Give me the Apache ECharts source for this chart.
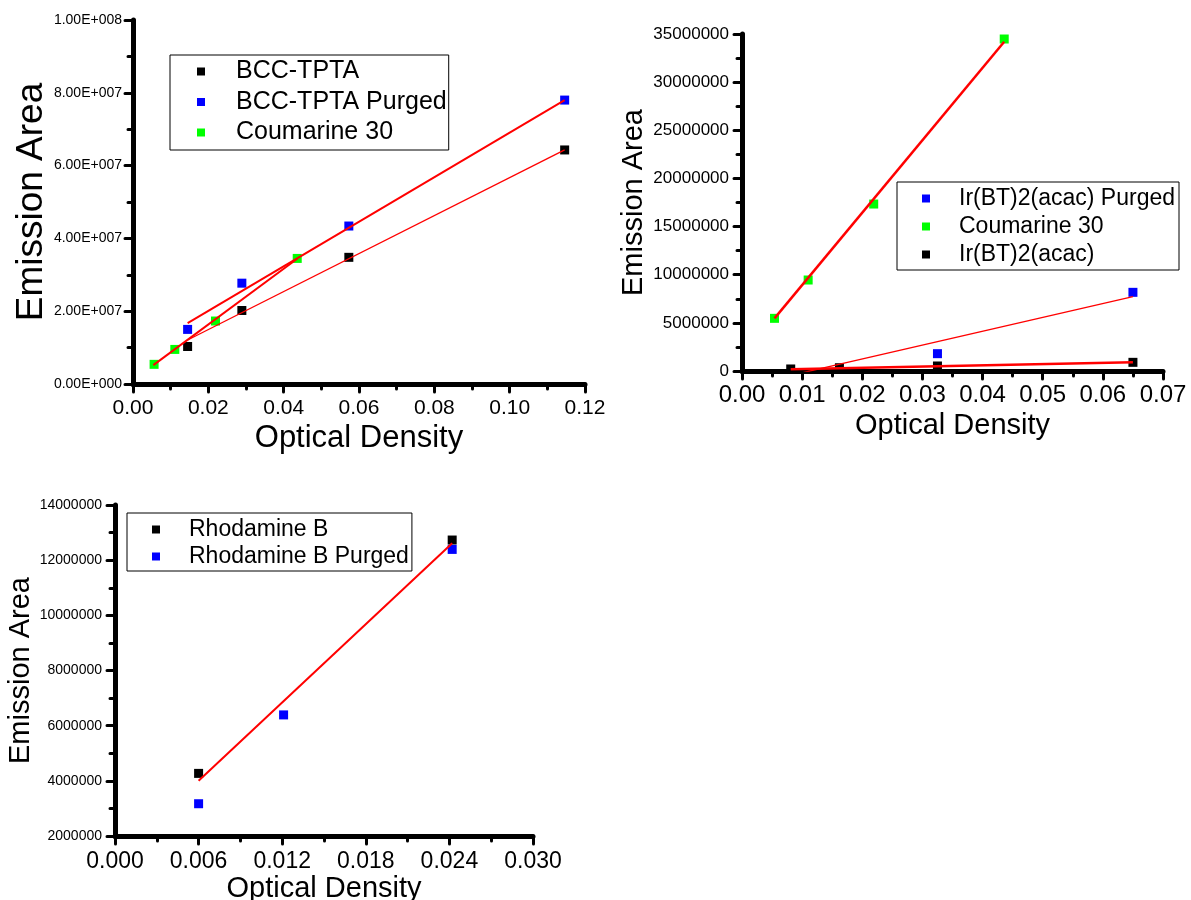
<!DOCTYPE html>
<html>
<head>
<meta charset="utf-8">
<script src="https://cdn.jsdelivr.net/npm/echarts@6/dist/echarts.min.js"></script>
<style>
html,body{margin:0;padding:0;background:#fff;}
#main{width:1191px;height:900px;}
</style>
</head>
<body>
<div id="main"></div>
<script>
// ---------- Data ----------
// Panel 1 (top-left)
const bccX = [0.0145, 0.0289, 0.0573, 0.1146];
const bccY = [1.03e7, 2.02e7, 3.48e7, 6.43e7];
const bccPurgedX = [0.0145, 0.0289, 0.0573, 0.1146];
const bccPurgedY = [1.50e7, 2.77e7, 4.34e7, 7.80e7];
const coumarineX = [0.0056, 0.0111, 0.0219, 0.0436];
const coumarineY = [5.4e6, 9.5e6, 1.73e7, 3.45e7];
const bccFitX = [0.0145, 0.1146];
const bccFitY = [1.21e7, 6.43e7];
const bccPurgedFitX = [0.0145, 0.1146];
const bccPurgedFitY = [1.67e7, 7.80e7];
const coumarineFitX = [0.0054, 0.0436];
const coumarineFitY = [5.2e6, 3.44e7];

// Panel 2 (top-right)
const irPurgedX = [0.0325, 0.0650];
const irPurgedY = [1.8e6, 8.17e6];
const coumarine2X = [0.0054, 0.0110, 0.0219, 0.0436];
const coumarine2Y = [5.47e6, 9.45e6, 1.734e7, 3.448e7];
const irX = [0.0081, 0.0162, 0.0325, 0.0650];
const irY = [2.1e5, 3.4e5, 5.2e5, 9.0e5];
const irPurgedFitX = [0.0081, 0.0650];
const irPurgedFitY = [-4.6e5, 7.72e6];
const coumarine2FitX = [0.0054, 0.0436];
const coumarine2FitY = [5.47e6, 3.42e7];
const irFitX = [0.0081, 0.0650];
const irFitY = [1.7e5, 9.0e5];

// Panel 3 (bottom-left)
const rhodX = [0.0060, 0.0242];
const rhodY = [4.27e6, 1.273e7];
const rhodPurgedX = [0.0060, 0.0121, 0.0242];
const rhodPurgedY = [3.17e6, 6.39e6, 1.239e7];
const rhodFitX = [0.0060, 0.0242];
const rhodFitY = [4.0e6, 1.261e7];

// Tick settings
const p1XTicks = {min: 0, max: 0.12, interval: 0.02};
const p1YTicks = {min: 0, max: 1e8, interval: 2e7};
const p2XTicks = {min: 0, max: 0.07, interval: 0.01};
const p2YTicks = {min: 0, max: 3.5e7, interval: 5e6};
const p3XTicks = {min: 0, max: 0.03, interval: 0.006};
const p3YTicks = {min: 2e6, max: 1.4e7, interval: 2e6};

const xTitle = 'Optical Density';
const yTitle = 'Emission Area';

// ---------- Chart ----------
const FONT = 'Liberation Sans, Arial, Helvetica, sans-serif';
const pts = (xs, ys) => xs.map((x, i) => [x, ys[i]]);
const sci = v => {
  if (v === 0) return '0.00E+000';
  const e = Math.floor(Math.log10(Math.abs(v)) + 1e-9);
  const m = v / Math.pow(10, e);
  return m.toFixed(2) + 'E+' + String(e).padStart(3, '0');
};

function xAxis(idx, t, fs, dec, nameFs, nameGap, labelMargin) {
  return {
    type: 'value', gridIndex: idx, min: t.min, max: t.max, interval: t.interval,
    name: xTitle, nameLocation: 'middle', nameGap: nameGap,
    nameTextStyle: {fontFamily: FONT, fontSize: nameFs, color: '#000'},
    axisLine: {show: true, onZero: false, lineStyle: {color: '#000', width: 5}},
    axisTick: {show: true, length: 8, lineStyle: {color: '#000', width: 3, cap: 'round'}},
    minorTick: {show: true, splitNumber: 2, length: 5, lineStyle: {color: '#000', width: 3, cap: 'round'}},
    splitLine: {show: false},
    axisLabel: {fontFamily: FONT, fontSize: fs, color: '#000', margin: labelMargin,
      formatter: v => v.toFixed(dec)}
  };
}
function yAxis(idx, t, fs, fmt, nameFs, nameGap, labelMargin) {
  return {
    type: 'value', gridIndex: idx, min: t.min, max: t.max, interval: t.interval,
    name: yTitle, nameLocation: 'middle', nameGap: nameGap, nameRotate: 90,
    nameTextStyle: {fontFamily: FONT, fontSize: nameFs, color: '#000'},
    axisLine: {show: true, onZero: false, lineStyle: {color: '#000', width: 5}},
    axisTick: {show: true, length: 8, lineStyle: {color: '#000', width: 3, cap: 'round'}},
    minorTick: {show: true, splitNumber: 2, length: 5, lineStyle: {color: '#000', width: 3, cap: 'round'}},
    splitLine: {show: false},
    axisLabel: {fontFamily: FONT, fontSize: fs, color: '#000', margin: labelMargin, formatter: fmt}
  };
}
function scatter(name, idx, xs, ys, color) {
  return {
    name: name, type: 'scatter', xAxisIndex: idx, yAxisIndex: idx,
    symbol: 'rect', symbolSize: 9, itemStyle: {color: color, opacity: 1}, z: 2,
    data: pts(xs, ys)
  };
}
function fit(name, idx, xs, ys, width) {
  return {
    name: name, type: 'line', xAxisIndex: idx, yAxisIndex: idx,
    showSymbol: false, symbol: 'none', clip: true, z: 3,
    lineStyle: {color: '#ff0000', width: width},
    data: pts(xs, ys)
  };
}
function legend(names, left, top, fs, padding, gap, textPad) {
  return {
    data: names.map(n => ({name: n, icon: 'rect', itemStyle: {opacity: 1}})),
    orient: 'vertical', left: left, top: top,
    itemWidth: 8, itemHeight: 8, itemGap: gap,
    padding: padding, borderColor: '#000', borderWidth: 1,
    selectedMode: false,
    textStyle: {fontFamily: FONT, fontSize: fs, color: '#000', padding: [0, 0, 0, textPad]}
  };
}

const chart = echarts.init(document.getElementById('main'), null, {renderer: 'canvas'});
chart.setOption({
  animation: false,
  backgroundColor: '#fff',
  grid: [
    {left: 133, top: 20, width: 452, height: 364, outerBoundsMode: 'none', containLabel: false},
    {left: 742, top: 34, width: 421, height: 337, outerBoundsMode: 'none', containLabel: false},
    {left: 115, top: 505, width: 418, height: 331, outerBoundsMode: 'none', containLabel: false}
  ],
  xAxis: [
    xAxis(0, p1XTicks, 21, 2, 31, 39, 14),
    xAxis(1, p2XTicks, 24, 2, 29, 40, 12),
    xAxis(2, p3XTicks, 23, 3, 29, 38, 14)
  ],
  yAxis: [
    yAxis(0, p1YTicks, 14, sci, 37, 83, 11),
    yAxis(1, p2YTicks, 17, v => String(Math.round(v)), 29, 94, 13),
    yAxis(2, p3YTicks, 14, v => String(Math.round(v)), 29, 69, 13)
  ],
  legend: [
    legend(['BCC-TPTA', 'BCC-TPTA Purged', 'Coumarine 30'], 170, 55, 25, [4, 2, 5, 27], 5.5, 26),
    legend(['Ir(BT)2(acac) Purged', 'Coumarine 30', 'Ir(BT)2(acac)'], 897, 182, 23, [5, 4, 4, 25], 5, 24),
    legend(['Rhodamine B', 'Rhodamine B Purged'], 127, 513, 23, [5, 3, 3, 25], 4, 24)
  ],
  series: [
    scatter('BCC-TPTA', 0, bccX, bccY, '#000000'),
    scatter('BCC-TPTA Purged', 0, bccPurgedX, bccPurgedY, '#0000ff'),
    scatter('Coumarine 30', 0, coumarineX, coumarineY, '#00ff00'),
    fit('fit BCC-TPTA', 0, bccFitX, bccFitY, 1.3),
    fit('fit BCC-TPTA Purged', 0, bccPurgedFitX, bccPurgedFitY, 2),
    fit('fit Coumarine 30', 0, coumarineFitX, coumarineFitY, 2),

    scatter('Ir(BT)2(acac) Purged', 1, irPurgedX, irPurgedY, '#0000ff'),
    scatter('Coumarine 30', 1, coumarine2X, coumarine2Y, '#00ff00'),
    scatter('Ir(BT)2(acac)', 1, irX, irY, '#000000'),
    fit('fit Ir purged', 1, irPurgedFitX, irPurgedFitY, 1.3),
    fit('fit Coumarine 30 b', 1, coumarine2FitX, coumarine2FitY, 2.5),
    fit('fit Ir', 1, irFitX, irFitY, 2.5),

    scatter('Rhodamine B', 2, rhodX, rhodY, '#000000'),
    scatter('Rhodamine B Purged', 2, rhodPurgedX, rhodPurgedY, '#0000ff'),
    fit('fit Rhodamine B', 2, rhodFitX, rhodFitY, 2)
  ]
});
</script>
</body>
</html>
